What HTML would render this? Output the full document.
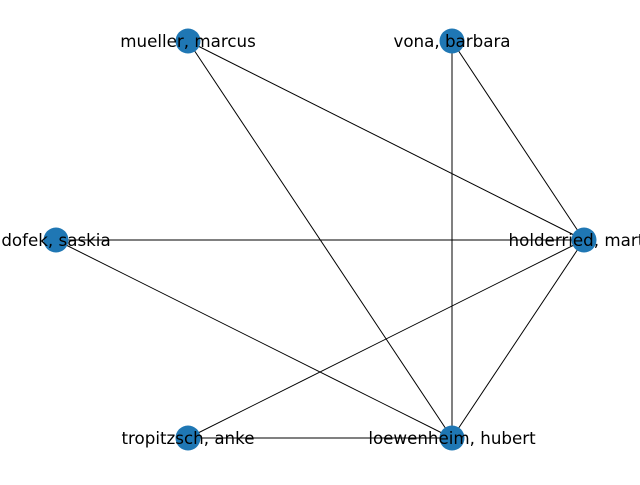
<!DOCTYPE html>
<html><head><style>html,body{margin:0;padding:0;background:#fff;}</style></head>
<body>
<svg width="640" height="480" xmlns="http://www.w3.org/2000/svg">
<g stroke="#000" stroke-width="1">
<line x1="188" y1="41" x2="584" y2="240"/>
<line x1="188" y1="41" x2="452" y2="438"/>
<line x1="452" y1="41" x2="452" y2="438"/>
<line x1="452" y1="41" x2="584" y2="240"/>
<line x1="56" y1="240" x2="584" y2="240"/>
<line x1="56" y1="240" x2="452" y2="438"/>
<line x1="188" y1="438" x2="584" y2="240"/>
<line x1="188" y1="438" x2="452" y2="438"/>
<line x1="584" y1="240" x2="452" y2="438"/>
</g>
<g fill="#1f77b4">
<circle cx="188" cy="41" r="12.5"/>
<circle cx="452" cy="41" r="12.5"/>
<circle cx="56" cy="240" r="12.5"/>
<circle cx="584" cy="240" r="12.5"/>
<circle cx="188" cy="438" r="12.5"/>
<circle cx="452" cy="438" r="12.5"/>
</g>
<g font-family="DejaVu Sans, Liberation Sans, sans-serif" font-size="16.7" text-anchor="middle" dominant-baseline="central" fill="#000">
<text x="188" y="41">mueller, marcus</text>
<text x="452" y="41">vona, barbara</text>
<text x="56" y="240">dofek, saskia</text>
<text x="584" y="240">holderried, martin</text>
<text x="188" y="438">tropitzsch, anke</text>
<text x="452" y="438">loewenheim, hubert</text>
</g>
</svg>
</body></html>
